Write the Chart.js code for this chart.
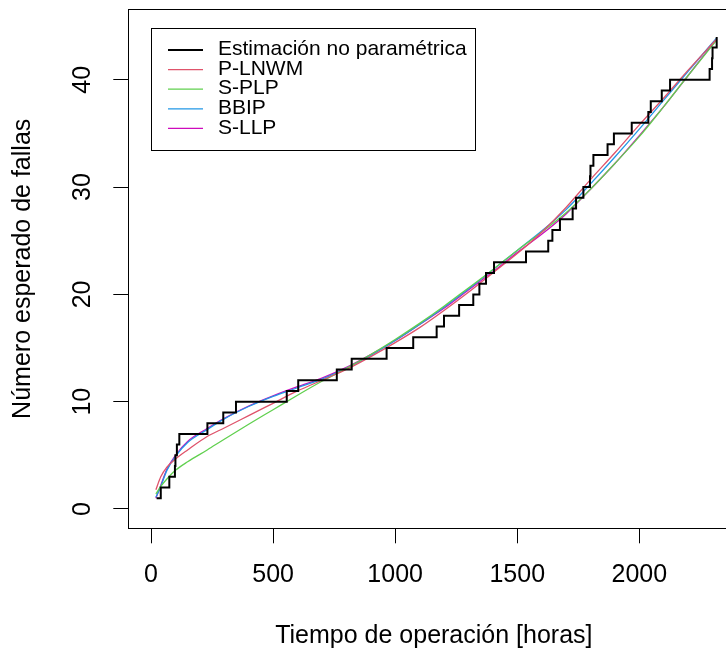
<!DOCTYPE html>
<html>
<head>
<meta charset="utf-8">
<script src="https://cdn.jsdelivr.net/npm/chart.js@4"></script>
<style>
html, body { margin: 0; padding: 0; overflow: hidden; background: #fff; }
canvas { display: block; }
</style>
</head>
<body>
<canvas id="chart" width="740" height="652"></canvas>
<script>
// nonparametric estimate (failure times and cumulative count)
const stepTimes = [23, 40, 75, 98, 100, 106, 116, 231, 296, 348, 556, 603, 761, 822, 965,
  1074, 1170, 1200, 1262, 1320, 1345, 1372, 1405, 1536, 1627, 1644, 1675, 1727, 1741, 1771,
  1798, 1800, 1812, 1870, 1896, 1969, 2037, 2047, 2092, 2126, 2288, 2298, 2300, 2317];
const stepCounts = [1, 2, 3, 4, 5, 6, 7, 8, 9, 10, 11, 12, 13, 14, 15,
  16, 17, 18, 19, 20, 21, 22, 23, 24, 25, 26, 27, 28, 29, 30,
  31, 32, 33, 34, 35, 36, 37, 38, 39, 40, 41, 42, 43, 44];

// fitted mean value functions
const curveTimes = [20, 40, 65, 100, 150, 230, 300, 400, 500, 600, 700, 800, 900, 1000,
  1100, 1200, 1300, 1400, 1500, 1600, 1700, 1800, 1900, 2000, 2100, 2200, 2317];
const pLnwm = [1.8, 3.0, 3.9, 4.65, 5.5, 6.75, 7.55, 8.7, 9.85, 11.0, 12.0, 13.0, 14.2, 15.5,
  16.9, 18.5, 20.2, 22.0, 23.8, 25.8, 28.1, 30.7, 33.2, 35.8, 38.3, 40.9, 43.8];
const sPlp = [1.4, 2.1, 2.8, 3.6, 4.4, 5.5, 6.5, 7.9, 9.25, 10.6, 11.9, 13.1, 14.4, 15.8,
  17.3, 18.9, 20.6, 22.3, 24.1, 25.8, 27.6, 29.8, 32.2, 34.7, 37.5, 40.4, 43.7];
const bbip = [1.1, 2.1, 3.6, 4.9, 6.2, 7.4, 8.4, 9.55, 10.5, 11.3, 12.1, 13.1, 14.3, 15.7,
  17.2, 18.8, 20.5, 22.3, 24.1, 25.9, 27.9, 30.3, 32.8, 35.4, 38.1, 40.8, 43.9];
const sLlp = [1.0, 2.2, 3.7, 5.0, 6.3, 7.5, 8.45, 9.6, 10.55, 11.4, 12.2, 13.2, 14.4, 15.7,
  17.2, 18.7, 20.4, 22.1, 23.9, 25.6, 27.5, 29.8, 32.2, 34.8, 37.5, 40.4, 43.8];

const xTicks = [0, 500, 1000, 1500, 2000];
const yTicks = [0, 10, 20, 30, 40];

const FONT = "'Liberation Sans', Arial, sans-serif";
Chart.defaults.font.family = FONT;
Chart.defaults.color = '#000';

function pts(xs, ys) {
  return xs.map((x, i) => ({ x: x, y: ys[i] }));
}

function curve(label, values, color) {
  return {
    label: label,
    data: pts(curveTimes, values),
    borderColor: color,
    borderWidth: 1.3,
    cubicInterpolationMode: 'monotone',
    pointRadius: 0
  };
}

// R style box around the plot region
const boxPlugin = {
  id: 'box',
  afterDatasetsDraw(chart) {
    const { ctx, chartArea: a } = chart;
    ctx.save();
    ctx.strokeStyle = '#000';
    ctx.lineWidth = 1;
    ctx.strokeRect(Math.round(a.left) + 0.5, Math.round(a.top) + 0.5,
      Math.round(a.right - a.left), Math.round(a.bottom - a.top));
    ctx.restore();
  }
};

// legend with a frame, drawn inside the plot
const legendPlugin = {
  id: 'rlegend',
  afterDraw(chart) {
    const ctx = chart.ctx;
    ctx.save();
    ctx.strokeStyle = '#000';
    ctx.lineWidth = 1;
    ctx.strokeRect(151.5, 28.5, 324, 122);
    ctx.font = '21px ' + FONT;
    ctx.textBaseline = 'middle';
    chart.data.datasets.forEach((ds, i) => {
      const y = 50 + i * 19.6;
      ctx.strokeStyle = ds.borderColor;
      ctx.lineWidth = ds.borderWidth;
      ctx.beginPath();
      ctx.moveTo(168, y);
      ctx.lineTo(203, y);
      ctx.stroke();
      ctx.fillStyle = '#000';
      ctx.fillText(ds.label, 218, y - 0.5);
    });
    ctx.restore();
  }
};

function noPad(s) {
  s.paddingTop = 0;
  s.paddingBottom = 0;
  s.paddingLeft = 0;
  s.paddingRight = 0;
}

new Chart(document.getElementById('chart').getContext('2d'), {
  type: 'line',
  data: {
    datasets: [
      {
        label: 'Estimación no paramétrica',
        data: pts(stepTimes, stepCounts),
        borderColor: '#000',
        borderWidth: 2,
        stepped: 'before',
        pointRadius: 0
      },
      curve('P-LNWM', pLnwm, '#DF536B'),
      curve('S-PLP', sPlp, '#61D04F'),
      curve('BBIP', bbip, '#2297E6'),
      curve('S-LLP', sLlp, '#CD0BBC')
    ]
  },
  options: {
    responsive: false,
    animation: false,
    layout: { padding: { top: 9.3, right: 0.6, bottom: 0, left: 0 } },
    plugins: {
      legend: { display: false },
      tooltip: { enabled: false }
    },
    scales: {
      x: {
        type: 'linear',
        min: -93,
        max: 2410,
        afterBuildTicks: s => { s.ticks = xTicks.map(v => ({ value: v })); },
        afterFit: s => { s.height = 123.7; noPad(s); },
        border: { display: false },
        grid: { drawOnChartArea: false, tickLength: 15, color: '#000', tickColor: '#000' },
        ticks: {
          autoSkip: false,
          maxRotation: 0,
          padding: 16.5,
          font: { size: 25 },
          callback: v => String(v)
        },
        title: {
          display: true,
          text: 'Tiempo de operación [horas]',
          font: { size: 25 },
          padding: { top: 0, bottom: 0.8 }
        }
      },
      y: {
        type: 'linear',
        min: -1.8,
        max: 46.57,
        afterBuildTicks: s => { s.ticks = yTicks.map(v => ({ value: v })); },
        afterFit: s => { s.width = 128.3; noPad(s); },
        border: { display: false },
        grid: { drawOnChartArea: false, tickLength: 15, color: '#000', tickColor: '#000' },
        ticks: {
          autoSkip: false,
          minRotation: 90,
          maxRotation: 90,
          crossAlign: 'center',
          padding: 16.5,
          font: { size: 25 },
          callback: v => String(v)
        },
        title: {
          display: true,
          text: 'Número esperado de fallas',
          font: { size: 25 },
          padding: { top: 8, bottom: 0 }
        }
      }
    }
  },
  plugins: [boxPlugin, legendPlugin]
});
</script>
</body>
</html>
